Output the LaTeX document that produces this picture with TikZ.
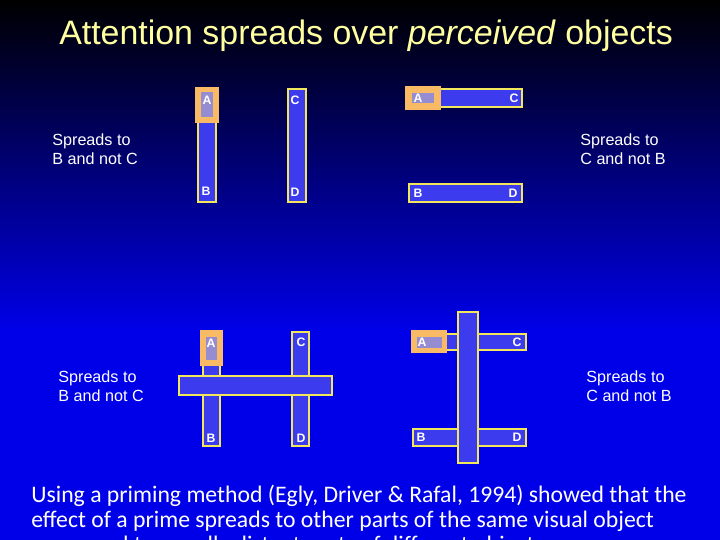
\documentclass[tikz,border=0pt]{standalone}
\usepackage{fontspec}
\setmainfont{Liberation Sans}
\newfontfamily\bodyfont{Carlito}
\usepackage{xcolor}
\usetikzlibrary{positioning}
\definecolor{deepblue}{RGB}{0,0,232}
\definecolor{barblue}{RGB}{60,60,238}
\definecolor{baryellow}{RGB}{242,230,90}
\definecolor{primeorange}{RGB}{248,186,100}
\definecolor{primepatch}{RGB}{150,140,210}
\definecolor{titleyellow}{RGB}{255,255,160}
\tikzstyle{bar} = [draw=baryellow,fill=barblue,line width=1.3pt]
\tikzstyle{prime} = [fill=primeorange]
\tikzstyle{patch} = [fill=primepatch]
\tikzstyle{letter} = [text=white,font=\bfseries\fontsize{7}{8}\selectfont,inner sep=0pt]
\tikzstyle{caption} = [text=white,anchor=west,align=left,inner sep=0pt,font=\fontsize{9.2}{11}\selectfont]

\begin{document}
\begin{tikzpicture}[x=0.02cm,y=-0.02cm]
    % background: dark at the top, bright blue below
    \useasboundingbox (0,0) rectangle (720,540);
    \fill[deepblue] (0,0) rectangle (720,540);
    \shade[top color=black,bottom color=deepblue] (0,0) rectangle (720,330);

    % title
    \node[text=titleyellow,font=\fontsize{19.3}{23}\selectfont] (title) at (366,36) {Attention spreads over \textit{perceived} objects};

    % top left: two upright bars
    \draw[bar] (198,89) rectangle (216,202);
    \draw[bar] (288,89) rectangle (306,202);
    \fill[prime] (195,87) rectangle (219,123);
    \fill[patch] (201,92) rectangle (213,117);
    \node[letter] (tlA) at (207,100) {A};
    \node[letter] (tlB) at (206,191) {B};
    \node[letter] (tlC) at (295,100) {C};
    \node[letter] (tlD) at (295,192) {D};

    % top right: two lying bars
    \draw[bar] (409,89) rectangle (522,107);
    \draw[bar] (409,184) rectangle (522,202);
    \fill[prime] (405,86) rectangle (441,110);
    \fill[patch] (412,93) rectangle (434,103);
    \node[letter] (trA) at (418,98) {A};
    \node[letter] (trC) at (514,98) {C};
    \node[letter] (trB) at (418,193) {B};
    \node[letter] (trD) at (513,193) {D};

    % bottom left: upright bars under one lying bar
    \draw[bar] (203,332) rectangle (220,446);
    \draw[bar] (292,332) rectangle (309,446);
    \draw[bar] (179,376) rectangle (332,395);
    \fill[prime] (200,330) rectangle (223,366);
    \fill[patch] (206,337) rectangle (217,360);
    \node[letter] (blA) at (211,343) {A};
    \node[letter] (blC) at (301,342) {C};
    \node[letter] (blB) at (211,438) {B};
    \node[letter] (blD) at (301,438) {D};

    % bottom right: lying bars under one upright bar
    \draw[bar] (412,334) rectangle (526,350);
    \draw[bar] (413,429) rectangle (526,446);
    \draw[bar] (458,312) rectangle (478,463);
    \fill[prime] (411,330) rectangle (447,353);
    \fill[patch] (417,337) rectangle (442,348);
    \node[letter] (brA) at (422,342) {A};
    \node[letter] (brC) at (517,342) {C};
    \node[letter] (brB) at (421,437) {B};
    \node[letter] (brD) at (517,437) {D};

    % side captions
    \node[caption] (captl) at (52,149) {Spreads to\\B and not C};
    \node[caption] (captr) at (580,149) {Spreads to\\C and not B};
    \node[caption] (capbl) at (58,386) {Spreads to\\B and not C};
    \node[caption] (capbr) at (586,386) {Spreads to\\C and not B};

    % bottom text, third line runs off the page
    \node[text=white,anchor=north west,align=left,inner sep=0pt,font=\bodyfont\fontsize{13.5}{14.2}\selectfont] (remark) at (31,485)
        {Using a priming method (Egly, Driver \& Rafal, 1994) showed that the\\
         effect of a prime spreads to other parts of the same visual object\\
         compared to equally distant parts of different objects};
\end{tikzpicture}
\end{document}
